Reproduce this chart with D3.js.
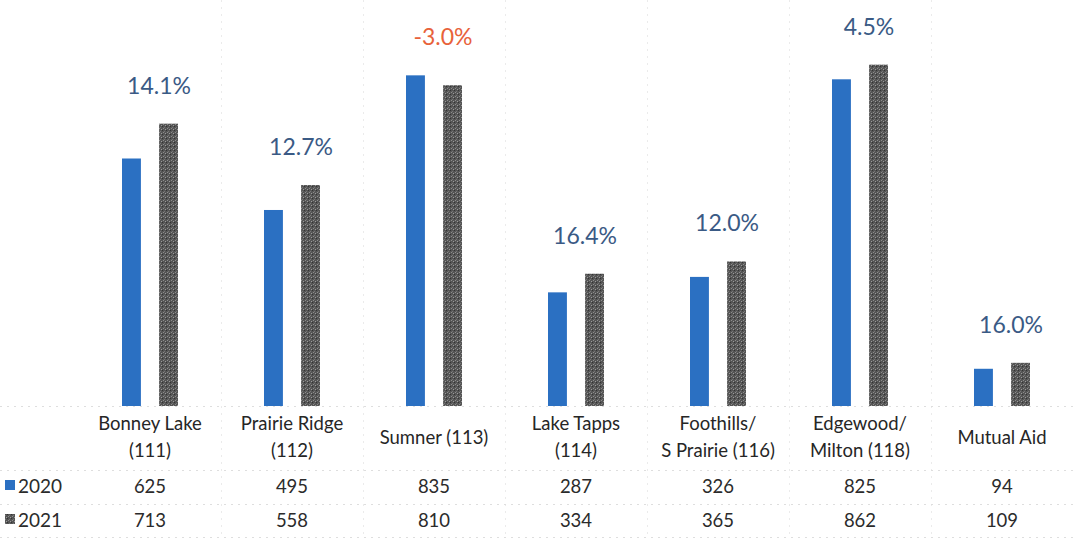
<!DOCTYPE html>
<html>
<head>
<meta charset="utf-8">
<script src="https://cdn.jsdelivr.net/npm/d3@7"></script>
<style>
  body { margin: 0; background: #fff; }
  svg { display: block; font-family: Lato, "Open Sans", sans-serif; }
</style>
</head>
<body>
<div id="chart"></div>
<script>
// chart data
var categories = ["Bonney Lake\n(111)", "Prairie Ridge\n(112)", "Sumner (113)", "Lake Tapps\n(114)",
  "Foothills/\nS Prairie (116)", "Edgewood/\nMilton (118)", "Mutual Aid"];
var years = ["2020", "2021"];
var values2020 = [625, 495, 835, 287, 326, 825, 94];
var values2021 = [713, 558, 810, 334, 365, 862, 109];
var pctLabels = ["14.1%", "12.7%", "-3.0%", "16.4%", "12.0%", "4.5%", "16.0%"];

var svgWidth = 1077;
var svgHeight = 539;
var baseY = 406;

var svg = d3.select("#chart")
  .append("svg")
  .attr("width", svgWidth)
  .attr("height", svgHeight);

// speckled gray fill for 2021 bars
var defs = svg.append("defs");
var pat = defs.append("pattern")
  .attr("id", "speckle")
  .attr("width", 4).attr("height", 4)
  .attr("patternUnits", "userSpaceOnUse");
pat.append("rect").attr("width", 4).attr("height", 4).attr("fill", "#555");
pat.append("rect").attr("x", 0).attr("y", 0).attr("width", 1).attr("height", 1).attr("fill", "#8c8c8c");
pat.append("rect").attr("x", 2).attr("y", 1).attr("width", 1).attr("height", 1).attr("fill", "#9a9a9a");
pat.append("rect").attr("x", 1).attr("y", 3).attr("width", 1).attr("height", 1).attr("fill", "#777");
pat.append("rect").attr("x", 3).attr("y", 2).attr("width", 1).attr("height", 1).attr("fill", "#333");

var colors = { "2020": "#2b70c2", "2021": "url(#speckle)" };

var data = categories.map(function(c, i) {
  return { cat: c, "2020": values2020[i], "2021": values2021[i], pct: pctLabels[i] };
});

// scales
var x0 = d3.scaleBand()
  .domain(categories)
  .range([79, 1073])
  .padding(0);

var x1 = d3.scaleBand()
  .domain(years)
  .range([43, 99])
  .paddingInner(0.49);

var y = d3.scaleLinear()
  .domain([0, 1000])
  .range([baseY, 10]);

// faint dotted grid (category separators and table rows)
var grid = svg.append("g")
  .attr("stroke", "#dedede")
  .attr("stroke-width", 1)
  .attr("stroke-dasharray", "2,5");

grid.selectAll("line.v")
  .data(categories.slice(1))
  .enter()
  .append("line")
  .attr("class", "v")
  .attr("x1", d => x0(d) + 0.5)
  .attr("x2", d => x0(d) + 0.5)
  .attr("y1", 0)
  .attr("y2", svgHeight)
  .attr("stroke", "#ebebeb");

grid.selectAll("line.h")
  .data([baseY, 470, 504, 537])
  .enter()
  .append("line")
  .attr("class", "h")
  .attr("x1", 0)
  .attr("x2", svgWidth)
  .attr("y1", d => d + 0.5)
  .attr("y2", d => d + 0.5);

// bars
var groups = svg.selectAll("g.cat")
  .data(data)
  .enter()
  .append("g")
  .attr("class", "cat")
  .attr("transform", d => `translate(${x0(d.cat)},0)`);

groups.selectAll("rect")
  .data(d => years.map(k => ({ key: k, value: d[k] })))
  .enter()
  .append("rect")
  .attr("x", d => x1(d.key))
  .attr("y", d => y(d.value))
  .attr("width", x1.bandwidth())
  .attr("height", d => baseY - y(d.value))
  .attr("fill", d => colors[d.key]);

// percent change labels
groups.append("text")
  .attr("x", x0.bandwidth() / 2 + 9)
  .attr("y", d => y(Math.max(d["2020"], d["2021"])) - 30)
  .attr("text-anchor", "middle")
  .style("font-size", "23px")
  .attr("fill", d => d.pct.charAt(0) === "-" ? "#e8623a" : "#3a5a85")
  .text(d => d.pct);

// category labels
var catText = groups.append("text")
  .attr("text-anchor", "middle")
  .style("font-size", "18.5px")
  .attr("fill", "#262626");

catText.each(function(d) {
  var lines = d.cat.split("\n");
  var t = d3.select(this);
  var startY = lines.length === 1 ? 444 : 430;
  lines.forEach(function(line, i) {
    t.append("tspan")
      .attr("x", x0.bandwidth() / 2)
      .attr("y", startY + i * 27)
      .text(line);
  });
});

// table rows
var rows = [values2020, values2021];
var rowY = [493, 527];

rows.forEach(function(vals, r) {
  svg.append("g")
    .selectAll("text")
    .data(vals)
    .enter()
    .append("text")
    .attr("x", (d, i) => x0(categories[i]) + x0.bandwidth() / 2)
    .attr("y", rowY[r])
    .attr("text-anchor", "middle")
    .style("font-size", "18.5px")
    .attr("fill", "#2b2b2b")
    .text(d => d);

  // legend key
  svg.append("rect")
    .attr("x", 5)
    .attr("y", rowY[r] - 13)
    .attr("width", 10)
    .attr("height", 10)
    .attr("fill", colors[years[r]]);

  svg.append("text")
    .attr("x", 18)
    .attr("y", rowY[r])
    .style("font-size", "19px")
    .attr("fill", "#2b2b2b")
    .text(years[r]);
});
</script>
</body>
</html>
